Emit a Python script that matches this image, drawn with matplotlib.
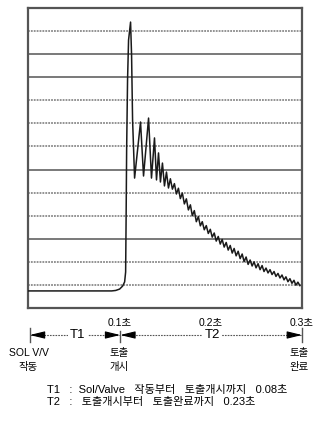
import matplotlib
matplotlib.use("Agg")
import matplotlib.pyplot as plt
from matplotlib.transforms import blended_transform_factory

plt.rcParams['font.family'] = ['Liberation Sans', 'Noto Sans CJK KR', 'DejaVu Sans']

# time in ms, pressure in grid units
time_ms = [0, 91.6, 96.0, 100.3, 103.6, 105.8, 106.9, 107.4, 108.0, 109.0, 110.1, 112.3,
           113.4, 114.5, 116.7, 123.2, 126.5, 132.0, 135.2, 138.5, 140.7, 142.9, 145.0,
           147.2, 149.4, 151.6, 153.8,
           155.9, 158.1, 160.3, 162.5, 164.7, 166.8, 169.0, 171.2, 173.4, 175.6, 177.8,
           179.9, 182.1, 184.3, 186.5, 188.7, 190.8, 193.0, 195.2, 197.4, 199.6, 201.7,
           203.9, 206.1, 208.3, 210.5, 212.6, 214.8, 217.0, 219.2, 221.4, 223.6, 225.7,
           227.9, 230.1, 232.3, 234.5, 236.6, 238.8, 241.0, 243.2, 245.4, 247.5, 249.7,
           251.9, 254.1, 256.3, 258.4, 260.6, 262.8, 265.0, 267.2, 269.4, 271.5, 273.7,
           275.9, 278.1, 280.3, 282.4, 284.6, 286.8, 289.0, 291.2, 293.3, 295.5, 297.7]
pressure = [0.74, 0.74, 0.76, 0.82, 0.95, 1.13, 1.56, 3.81, 6.85, 9.88, 11.61, 12.39,
            10.96, 8.15, 5.63, 8.06, 5.72, 8.23, 5.63, 7.37, 5.55, 6.72, 5.46,
            6.28, 5.29, 5.89, 5.20,
            5.60, 5.15, 5.39, 4.94, 5.19, 4.74, 4.98, 4.51, 4.73, 4.25, 4.47,
            4.00, 4.22, 3.74, 3.96, 3.56, 3.74, 3.39, 3.57, 3.23, 3.41, 3.07,
            3.25, 2.90, 3.10, 2.77, 2.97, 2.64, 2.84, 2.51, 2.71, 2.38, 2.58,
            2.26, 2.46, 2.14, 2.34, 2.01, 2.21, 1.89, 2.08, 1.82, 2.00, 1.74,
            1.92, 1.66, 1.84, 1.58, 1.73, 1.52, 1.66, 1.45, 1.58, 1.37, 1.50,
            1.30, 1.43, 1.22, 1.35, 1.14, 1.27, 1.07, 1.20, 0.99, 1.12, 0.97]

tick_times = [0.1, 0.2, 0.3]
tick_labels = ['0.1초', '0.2초', '0.3초']
event_times = [0.002, 0.101, 0.300]
event_labels = ['SOL V/V\n작동', '토출\n개시', '토출\n완료']
period_labels = ['T1', 'T2']
period_pos = [0.0545, 0.2017]
notes = ['T1   :  Sol/Valve   작동부터   토출개시까지   0.08초',
         'T2   :   토출개시부터   토출완료까지   0.23초']

W, H = 322, 421
fig = plt.figure(figsize=(W / 100, H / 100), dpi=100)
ax = fig.add_axes([28 / W, 1 - 308 / H, 274 / W, 300 / H])
t = [v / 1000 for v in time_ms]
ax.set_xlim(0, 0.3)
ax.set_ylim(0, 13)

solid_levels = [3, 6, 10, 11]
for lvl in range(1, 13):
    if lvl in solid_levels:
        ax.axhline(lvl, color='#555555', lw=1.1, zorder=1)
    else:
        ax.axhline(lvl, color='#8a8a8a', lw=1.3, ls=(0, (1, 0.6)), zorder=1)

ax.plot(t, pressure, color='#1a1a1a', lw=1.1, zorder=3)
ax.set_xticks([])
ax.set_yticks([])
for s in ax.spines.values():
    s.set_color('#555555')
    s.set_linewidth(1.6)

tr = blended_transform_factory(ax.transData, fig.transFigure)

def fy(py):
    return 1 - py / H

for tt, lab in zip(tick_times, tick_labels):
    ax.text(tt, fy(323), lab, transform=tr, ha='center', va='center', fontsize=7.5)

y_line = fy(335)
ax.plot([event_times[0], event_times[2]], [y_line, y_line], transform=tr,
        color='#555555', lw=0.8, ls=(0, (1.5, 1)), clip_on=False)
for i, et in enumerate(event_times):
    top = fy(328) if i != 1 else fy(331)
    ax.plot([et, et], [top, fy(342)], transform=tr, color='#555555', lw=1.0, clip_on=False)

arrow_kw = dict(arrowstyle='-|>,head_length=0.9,head_width=0.22', color='black', lw=0.8,
                shrinkA=0, shrinkB=0)
heads = [(event_times[0] + 0.015, event_times[0]), (event_times[1] - 0.012, event_times[1]),
         (event_times[1] + 0.015, event_times[1]), (event_times[2] - 0.015, event_times[2])]
for x0, x1 in heads:
    ax.annotate('', xy=(x1, y_line), xytext=(x0, y_line), xycoords=tr, textcoords=tr,
                arrowprops=arrow_kw, annotation_clip=False)

for pp, lab in zip(period_pos, period_labels):
    ax.text(pp, y_line, lab, transform=tr, ha='center', va='center', fontsize=9.5,
            bbox=dict(facecolor='white', edgecolor='none', pad=1.5))

event_x = [0.0005, 0.0995, 0.2965]
for ex, lab in zip(event_x, event_labels):
    ax.text(ex, fy(360), lab, transform=tr, ha='center', va='center', fontsize=7.5,
            linespacing=1.45)

fig.text(47 / W, fy(390), notes[0], ha='left', va='center', fontsize=8)
fig.text(47 / W, fy(402), notes[1], ha='left', va='center', fontsize=8)

fig.savefig('out.png', dpi=100)
